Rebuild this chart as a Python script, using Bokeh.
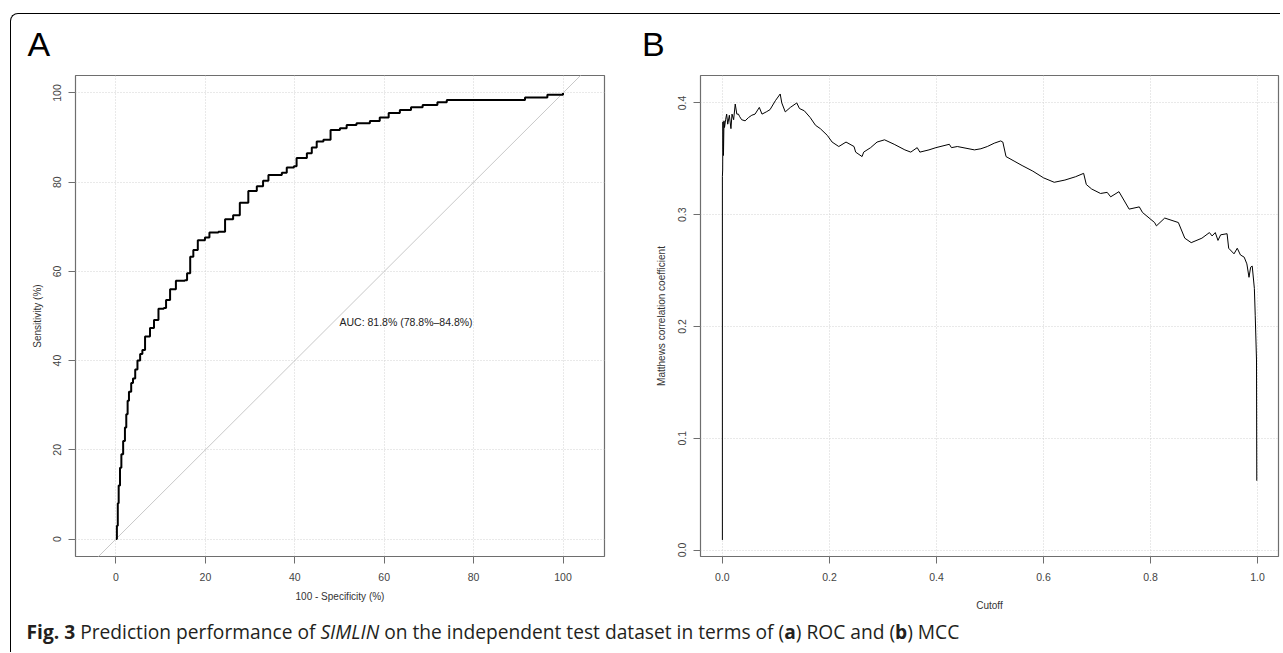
from bokeh.plotting import figure
from bokeh.layouts import column, row
from bokeh.models import Div, Label, FixedTicker, PrintfTickFormatter, Range1d
from bokeh.embed import file_html
from bokeh.resources import INLINE

# ---- Panel A: ROC curve (percent) ----
roc_fpr = [0, 0.2, 0.4, 0.6, 0.9, 1.2, 1.6, 2.0, 2.3, 2.6, 2.9, 3.4, 3.8, 4.3, 4.8,
           5.4, 5.9, 6.5, 7.6, 8.5, 9.5, 10.7, 11.2, 12.1, 13.4, 15.4, 15.9, 16.6, 17.3, 18.3,
           19.9, 20.9, 22.9, 24.4, 26.2, 27.7, 29.6, 31.5, 32.9, 34.1, 37.1, 38.2, 39.8, 40.4, 42.7,
           43.8, 44.9, 46.4, 48.0, 50.1, 51.6, 53.8, 56.8, 59.0, 61.0, 63.5, 66.0, 68.6, 71.9, 74.0,
           80.0, 89.0, 91.5, 96.5, 100]
roc_sens = [0, 3, 8, 12, 16, 19, 22, 25, 28, 31, 33, 35, 36, 38, 40,
            41.5, 42.4, 45.4, 47.3, 49.1, 51.6, 51.8, 53.6, 56.0, 57.9, 58.0, 59.6, 63.3, 64.8, 67.0,
            67.6, 68.7, 68.9, 71.7, 72.6, 75.4, 78.0, 79.1, 80.3, 81.6, 82.1, 83.3, 83.6, 85.4, 86.5,
            87.8, 89.1, 89.5, 91.7, 92.1, 92.8, 93.2, 93.7, 94.5, 95.5, 96.2, 96.8, 97.3, 97.9, 98.4,
            98.4, 98.4, 99.0, 99.6, 100]
roc_ticks = [0, 20, 40, 60, 80, 100]
auc_text = "AUC: 81.8% (78.8%\u201384.8%)"

# ---- Panel B: MCC vs cutoff ----
mcc_cut = [0.0, 0.0, 0.0005, 0.001, 0.0015, 0.002, 0.003, 0.004, 0.006, 0.008,
           0.010, 0.013, 0.016, 0.018, 0.021, 0.024, 0.027, 0.030, 0.032, 0.036,
           0.0425, 0.049, 0.055, 0.061, 0.069, 0.074, 0.082, 0.089, 0.099, 0.108,
           0.111, 0.1175, 0.127, 0.139, 0.144, 0.153, 0.164, 0.174, 0.183, 0.196,
           0.205, 0.2175, 0.231, 0.246, 0.249, 0.261, 0.264, 0.277, 0.289, 0.303,
           0.321, 0.341, 0.352, 0.364, 0.369, 0.386, 0.399, 0.424, 0.428, 0.439,
           0.471, 0.483, 0.495, 0.508, 0.52, 0.524, 0.53, 0.545, 0.56, 0.58,
           0.60, 0.62, 0.64, 0.66, 0.675, 0.68, 0.69, 0.7066, 0.719, 0.7255,
           0.741, 0.760, 0.779, 0.785, 0.8076, 0.811, 0.8265, 0.852, 0.864, 0.876,
           0.896, 0.91, 0.915, 0.921, 0.926, 0.931, 0.943, 0.946, 0.956, 0.962,
           0.968, 0.975, 0.98, 0.984, 0.987, 0.99, 0.994, 0.9956, 0.998, 0.9985]
mcc_val = [0.009, 0.334, 0.34, 0.383, 0.36, 0.353, 0.384, 0.378, 0.385, 0.39,
           0.381, 0.389, 0.377, 0.39, 0.385, 0.399, 0.39, 0.39, 0.388, 0.385,
           0.384, 0.387, 0.389, 0.39, 0.396, 0.39, 0.392, 0.394, 0.402, 0.408,
           0.4, 0.392, 0.396, 0.4, 0.395, 0.393, 0.387, 0.38, 0.377, 0.371,
           0.365, 0.361, 0.365, 0.361, 0.356, 0.352, 0.356, 0.36, 0.365, 0.367,
           0.363, 0.358, 0.356, 0.36, 0.356, 0.358, 0.36, 0.363, 0.36, 0.361,
           0.358, 0.359, 0.361, 0.364, 0.366, 0.365, 0.352, 0.348, 0.344, 0.339,
           0.333, 0.329, 0.331, 0.334, 0.337, 0.327, 0.323, 0.319, 0.32, 0.316,
           0.3206, 0.305, 0.307, 0.302, 0.293, 0.29, 0.297, 0.293, 0.279, 0.275,
           0.279, 0.284, 0.281, 0.284, 0.277, 0.282, 0.283, 0.27, 0.265, 0.27,
           0.264, 0.262, 0.256, 0.244, 0.253, 0.254, 0.234, 0.21, 0.17, 0.062]
mcc_xticks = [0.0, 0.2, 0.4, 0.6, 0.8, 1.0]
mcc_yticks = [0.0, 0.1, 0.2, 0.3, 0.4]

FONT = "Liberation Sans"
GRID = "#d3d3d3"


def style(p, xticks, yticks, xlabel, ylabel, xfmt=None, yfmt=None,
          x_lab_sd=11, y_tick_sd=7, y_lab_sd=8):
    p.outline_line_color = "#6e6e6e"
    p.outline_line_width = 1.2
    p.background_fill_color = "white"
    p.border_fill_color = "white"
    for ax in (p.xaxis[0], p.yaxis[0]):
        ax.axis_line_color = None
        ax.major_tick_line_color = "#6e6e6e"
        ax.major_tick_out = 7
        ax.major_tick_in = 0
        ax.minor_tick_line_color = None
        ax.major_label_text_font = FONT
        ax.major_label_text_font_size = "10.5px"
        ax.major_label_text_color = "#444444"
        ax.axis_label_text_font = FONT
        ax.axis_label_text_font_size = "10px"
        ax.axis_label_text_font_style = "normal"
        ax.axis_label_text_color = "#333333"
    p.xaxis[0].ticker = FixedTicker(ticks=xticks)
    p.yaxis[0].ticker = FixedTicker(ticks=yticks)
    if xfmt:
        p.xaxis[0].formatter = PrintfTickFormatter(format=xfmt)
    if yfmt:
        p.yaxis[0].formatter = PrintfTickFormatter(format=yfmt)
    p.xaxis[0].axis_label = xlabel
    p.yaxis[0].axis_label = ylabel
    p.xaxis[0].major_label_standoff = 9
    p.xaxis[0].axis_label_standoff = x_lab_sd
    p.yaxis[0].major_label_standoff = y_tick_sd
    p.yaxis[0].axis_label_standoff = y_lab_sd
    p.yaxis[0].major_label_orientation = "vertical"
    for g in (p.xgrid[0], p.ygrid[0]):
        g.grid_line_color = GRID
        g.grid_line_dash = "1 2"
        g.grid_line_width = 1
    p.xgrid[0].ticker = FixedTicker(ticks=xticks)
    p.ygrid[0].ticker = FixedTicker(ticks=yticks)


# ---------- Figure A ----------
pA = figure(width=629, height=561,
            x_range=Range1d(-9.06, 109.28), y_range=Range1d(-3.92, 103.92),
            output_backend="svg", toolbar_location=None,
            min_border_left=64, min_border_right=36, min_border_top=15, min_border_bottom=65)
style(pA, roc_ticks, roc_ticks, "100 - Specificity (%)", "Sensitivity (%)",
      x_lab_sd=7, y_tick_sd=7, y_lab_sd=8)
pA.line([-20, 120], [-20, 120], line_color="#c8c8c8", line_width=1)
pA.step(roc_fpr, roc_sens, mode="after", line_color="black", line_width=2)
pA.add_layout(Label(x=50, y=50, text=auc_text, text_align="left", text_baseline="top",
                    text_font=FONT, text_font_size="10.5px", text_color="#222222"))

# ---------- Figure B ----------
pB = figure(width=640, height=561,
            x_range=Range1d(-0.0409, 1.0391), y_range=Range1d(-0.0058, 0.42455),
            output_backend="svg", toolbar_location=None,
            min_border_left=60, min_border_right=2, min_border_top=15, min_border_bottom=64)
style(pB, mcc_xticks, mcc_yticks, "Cutoff", "Matthews correlation coefficient",
      xfmt="%.1f", yfmt="%.1f", x_lab_sd=16, y_tick_sd=7, y_lab_sd=9)
pB.line(mcc_cut, mcc_val, line_color="black", line_width=1)

# ---------- panel letters and caption ----------
letter_css = ("font-family:'Liberation Sans';font-size:34px;line-height:38px;"
              "color:#000;padding-top:10.7px;")
divA = Div(text=f'<div style="{letter_css}margin-left:16.5px">A</div>',
           width=629, height=46, margin=(0, 0, 0, 0))
divB = Div(text=f'<div style="{letter_css}margin-left:2px">B</div>',
           width=640, height=46, margin=(0, 0, 0, 0))

caption_html = (
    '<div style="margin-left:15.5px;font-family:\'Open Sans\';font-size:19.2px;'
    'line-height:22px;color:#231f20;white-space:nowrap">'
    '<b>Fig. 3</b> Prediction performance of <i>SIMLIN</i> on the independent test dataset '
    'in terms of (<b>a</b>) ROC and (<b>b</b>) MCC</div>'
)
cap = Div(text=caption_html, width=1260, height=31, margin=(0, 0, 0, 0))

layout = column(row(divA, divB), row(pA, pB), cap, margin=(13, 0, 0, 10),
                styles={"border-top": "1.5px solid #000", "border-left": "1.5px solid #000",
                        "border-top-left-radius": "8px"})

open("out.html", "w").write(file_html(layout, INLINE))
